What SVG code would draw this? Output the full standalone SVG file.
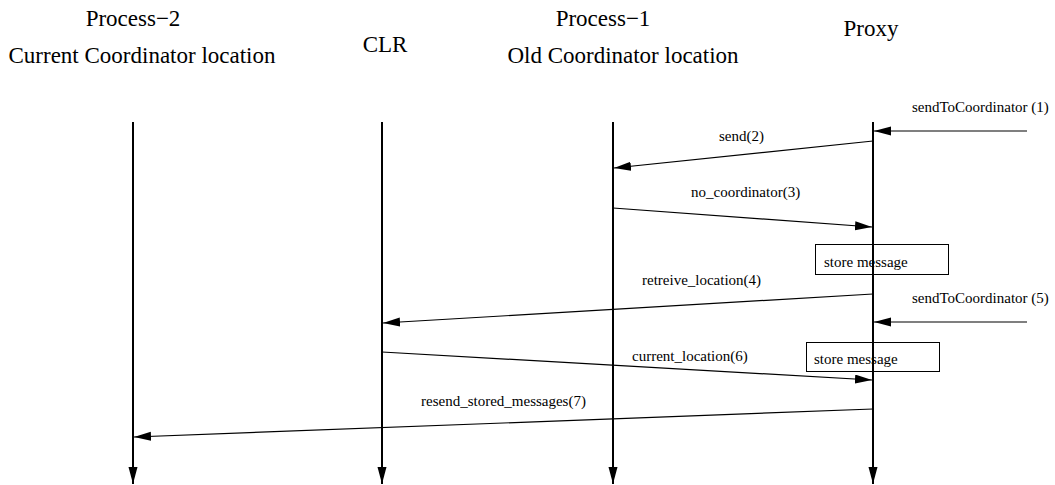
<svg xmlns="http://www.w3.org/2000/svg" width="1055" height="485" viewBox="0 0 1055 485">
  <style>
    text { font-family: 'Liberation Serif', Tinos, 'DejaVu Serif', serif; fill: #000; }
    .head { font-size: 23px; text-anchor: middle; }
    .lbl { font-size: 15px; }
    .life { stroke: #000; stroke-width: 2; fill: none; }
    .msg { stroke: #000; stroke-width: 1.2; fill: none; }
    .box { stroke: #000; stroke-width: 1; fill: #fff; }
  </style>
  <defs>
    <marker id="arrow" markerUnits="userSpaceOnUse" markerWidth="18" markerHeight="10" refX="17" refY="4.5" orient="auto">
      <path d="M0,0 L17,4.5 L0,9 Z" fill="#000"/>
    </marker>
  </defs>

  <rect width="1055" height="485" fill="#fff"/>

  <!-- lifelines -->
  <g id="process2">
    <text class="head" x="133" y="26">Process−2</text>
    <text class="head" x="142" y="63">Current Coordinator location</text>
    <line class="life" x1="133" y1="122" x2="133" y2="484" marker-end="url(#arrow)"/>
  </g>
  <g id="clr">
    <text class="head" x="385" y="52">CLR</text>
    <line class="life" x1="382" y1="122" x2="382" y2="484" marker-end="url(#arrow)"/>
  </g>
  <g id="process1">
    <text class="head" x="603" y="26">Process−1</text>
    <text class="head" x="623" y="63">Old Coordinator location</text>
    <line class="life" x1="613" y1="122" x2="613" y2="484" marker-end="url(#arrow)"/>
  </g>
  <g id="proxy">
    <text class="head" x="871" y="36">Proxy</text>
    <line class="life" x1="873" y1="122" x2="873" y2="484" marker-end="url(#arrow)"/>
  </g>

  <!-- local actions on the proxy -->
  <g id="store1">
    <rect class="box" x="815.5" y="244.5" width="133" height="30"/>
    <line class="life" x1="873" y1="244" x2="873" y2="275"/>
    <text class="lbl" x="824" y="267">store message</text>
  </g>
  <g id="store2">
    <rect class="box" x="806.5" y="342.5" width="133" height="29"/>
    <line class="life" x1="873" y1="342" x2="873" y2="372"/>
    <text class="lbl" x="814" y="364">store message</text>
  </g>

  <!-- messages -->
  <g id="connectors">
    <line class="msg" x1="1027" y1="131" x2="874" y2="131" marker-end="url(#arrow)"/>
    <text class="lbl" x="912" y="112">sendToCoordinator (1)</text>

    <line class="msg" x1="873" y1="141" x2="614" y2="168" marker-end="url(#arrow)"/>
    <text class="lbl" x="719" y="141">send(2)</text>

    <line class="msg" x1="613" y1="208" x2="872" y2="227" marker-end="url(#arrow)"/>
    <text class="lbl" x="691" y="197">no_coordinator(3)</text>

    <line class="msg" x1="873" y1="294" x2="383" y2="323" marker-end="url(#arrow)"/>
    <text class="lbl" x="642" y="285">retreive_location(4)</text>

    <line class="msg" x1="1027" y1="322" x2="874" y2="322" marker-end="url(#arrow)"/>
    <text class="lbl" x="912" y="303">sendToCoordinator (5)</text>

    <line class="msg" x1="382" y1="352" x2="872" y2="380" marker-end="url(#arrow)"/>
    <text class="lbl" x="632" y="361">current_location(6)</text>

    <line class="msg" x1="873" y1="409" x2="134" y2="437" marker-end="url(#arrow)"/>
    <text class="lbl" x="421" y="406">resend_stored_messages(7)</text>
  </g>
</svg>
